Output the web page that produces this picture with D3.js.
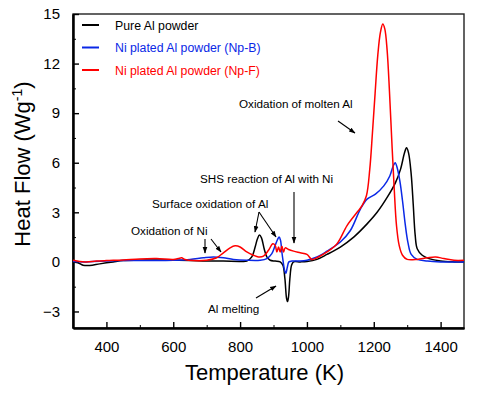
<!DOCTYPE html>
<html lang="en">
<head>
    <meta charset="UTF-8">
    <title>DSC Heat Flow</title>
    <script src="https://d3js.org/d3.v7.min.js"></script>
    <style>
        body {
            margin: 0;
            font-family: Arial, "Liberation Sans", sans-serif;
            background: #fff;
        }
        .axis path, .axis line {
            stroke: #000;
        }
        .axis path {
            stroke-width: 2px;
        }
        .axis text {
            font-size: 15px;
            font-family: Arial, "Liberation Sans", sans-serif;
            fill: #000;
        }
        .note {
            font-size: 11.7px;
        }
    </style>
</head>
<body>
    <svg width="477" height="395"></svg>
    <script>
        // series
        const seriesNames = ["Pure Al powder", "Ni plated Al powder (Np-B)", "Ni plated Al powder (Np-F)"];
        const seriesColors = ["#000000", "#0a28e6", "#ff0000"];

        const pureT = [300, 315, 330, 350, 380, 420, 450, 500, 550, 600, 650, 700, 750, 800, 820, 835, 845, 852, 858, 864, 872, 880, 890, 905, 920, 928, 934, 939, 942, 945, 949, 954, 960, 980, 1000, 1030, 1060, 1100, 1140, 1180, 1210, 1240, 1265, 1280, 1292, 1298, 1304, 1312, 1318, 1324, 1330, 1345, 1365, 1400, 1440, 1470];
        const pureF = [0.0, -0.05, -0.2, -0.22, -0.12, 0.0, 0.08, 0.1, 0.12, 0.1, 0.08, 0.05, 0.05, 0.03, 0.05, 0.3, 0.9, 1.4, 1.62, 1.45, 0.8, 0.3, 0.1, 0.05, 0.0, -0.2, -1.0, -2.2, -2.4, -2.1, -1.0, -0.2, 0.0, 0.0, 0.02, 0.15, 0.45, 0.9, 1.5, 2.3, 3.0, 3.9, 4.8, 5.6, 6.6, 6.9, 6.6, 5.3, 3.5, 1.6, 0.8, 0.4, 0.2, 0.05, 0.0, 0.0];

        const npbT = [300, 330, 360, 400, 450, 500, 550, 600, 650, 690, 720, 750, 780, 820, 860, 880, 895, 905, 912, 917, 921, 925, 929, 933, 937, 941, 946, 955, 980, 1000, 1030, 1060, 1100, 1130, 1160, 1180, 1205, 1230, 1248, 1258, 1264, 1270, 1278, 1286, 1294, 1302, 1312, 1330, 1360, 1400, 1470];
        const npbF = [0.02, 0.0, 0.02, 0.05, 0.08, 0.08, 0.08, 0.1, 0.15, 0.25, 0.3, 0.25, 0.15, 0.1, 0.1, 0.2, 0.5, 1.0, 1.35, 1.5, 1.3, 0.6, 0.0, -0.5, -0.7, -0.35, 0.0, 0.05, 0.05, 0.1, 0.3, 0.65, 1.2, 1.9, 3.2, 3.8, 4.1, 4.6, 5.2, 5.8, 6.0, 5.7, 4.9, 3.7, 2.3, 1.2, 0.45, 0.15, 0.05, 0.0, 0.0];

        const npfT = [300, 320, 340, 370, 400, 450, 500, 550, 600, 615, 625, 635, 660, 700, 730, 750, 770, 785, 800, 820, 840, 855, 870, 885, 898, 905, 910, 915, 920, 925, 930, 935, 945, 960, 980, 1000, 1015, 1030, 1060, 1090, 1120, 1150, 1165, 1178, 1188, 1196, 1204, 1212, 1220, 1227, 1233, 1240, 1247, 1254, 1261, 1268, 1276, 1286, 1300, 1330, 1360, 1385, 1410, 1440, 1470];
        const npfF = [0.1, 0.02, 0.0, 0.05, 0.08, 0.12, 0.18, 0.2, 0.15, 0.2, 0.25, 0.15, 0.08, 0.1, 0.25, 0.55, 0.85, 0.97, 0.9, 0.6, 0.4, 0.3, 0.35, 0.7, 1.1, 1.0, 0.6, 0.9, 0.6, 0.95, 0.6, 0.85, 0.75, 0.65, 0.55, 0.45, 0.15, 0.25, 0.6, 1.1, 2.2, 3.0, 3.4, 4.0, 5.6, 7.8, 10.2, 12.5, 13.9, 14.4, 14.1, 12.8, 10.3, 7.3, 4.5, 2.2, 1.0, 0.4, 0.15, 0.15, 0.25, 0.3, 0.2, 0.1, 0.1];

        const xTicks = [400, 600, 800, 1000, 1200, 1400];
        const xMinor = [300, 500, 700, 900, 1100, 1300];
        const yTicks = [-3, 0, 3, 6, 9, 12, 15];
        const yMinor = [-1.5, 1.5, 4.5, 7.5, 10.5, 13.5];

        const margin = { top: 14, right: 13, bottom: 67, left: 73 },
              width = 477 - margin.left - margin.right,
              height = 395 - margin.top - margin.bottom;

        const svg = d3.select("svg");
        const g = svg.append("g")
            .attr("transform", "translate(" + margin.left + "," + margin.top + ")");

        const x = d3.scaleLinear().domain([300, 1470]).range([0, width]);
        const y = d3.scaleLinear().domain([-4, 15]).range([height, 0]);

        // frame (top and right)
        g.append("rect")
            .attr("x", 0).attr("y", 0)
            .attr("width", width).attr("height", height)
            .attr("fill", "none")
            .attr("stroke", "#222")
            .attr("stroke-width", 1.4);

        // axes, ticks pointing inside
        g.append("g")
            .attr("class", "axis")
            .attr("transform", "translate(0," + height + ")")
            .call(d3.axisBottom(x).tickValues(xMinor).tickSizeInner(-3).tickSizeOuter(0).tickFormat(""));
        g.append("g")
            .attr("class", "axis")
            .attr("transform", "translate(0," + height + ")")
            .call(d3.axisBottom(x).tickValues(xTicks).tickSizeInner(-6).tickSizeOuter(0).tickPadding(13).tickFormat(d3.format("d")))
            .selectAll("line").attr("stroke-width", 1.4);

        g.append("g")
            .attr("class", "axis")
            .call(d3.axisLeft(y).tickValues(yMinor).tickSizeInner(-3).tickSizeOuter(0).tickFormat(""));
        g.append("g")
            .attr("class", "axis")
            .call(d3.axisLeft(y).tickValues(yTicks).tickSizeInner(-6).tickSizeOuter(0).tickPadding(13).tickFormat(d3.format("d")))
            .selectAll("line").attr("stroke-width", 1.4);

        // curves
        const line = d3.line()
            .x(function(d) { return x(d[0]); })
            .y(function(d) { return y(d[1]); })
            .curve(d3.curveCatmullRom.alpha(0.5));

        const allSeries = [
            d3.zip(pureT, pureF),
            d3.zip(npbT, npbF),
            d3.zip(npfT, npfF)
        ];

        const plot = g.append("g");
        plot.append("clipPath").attr("id", "clip")
            .append("rect").attr("width", width).attr("height", height);
        plot.selectAll(".curve")
            .data(allSeries)
            .enter()
            .append("path")
            .attr("class", "curve")
            .attr("clip-path", "url(#clip)")
            .attr("fill", "none")
            .attr("stroke", function(d, i) { return seriesColors[i]; })
            .attr("stroke-width", 1.5)
            .attr("stroke-linejoin", "round")
            .attr("d", line);

        // legend
        const legend = g.append("g").attr("transform", "translate(9,11)");
        seriesNames.forEach(function(name, i) {
            const row = legend.append("g").attr("transform", "translate(0," + (i * 22.5) + ")");
            row.append("line")
                .attr("x1", 0).attr("x2", 17)
                .attr("stroke", seriesColors[i]).attr("stroke-width", 2);
            row.append("text")
                .attr("x", 33).attr("y", 4.5)
                .attr("font-size", "12.3px")
                .attr("fill", i === 0 ? "#000" : seriesColors[i])
                .text(name);
        });

        // axis titles
        svg.append("text")
            .attr("x", margin.left + width / 2 - 4)
            .attr("y", 380)
            .attr("text-anchor", "middle")
            .attr("font-size", "22px")
            .text("Temperature (K)");

        const yt = svg.append("text")
            .attr("transform", "translate(30," + (margin.top + 150) + ") rotate(-90)")
            .attr("text-anchor", "middle")
            .attr("font-size", "22px");
        yt.append("tspan").text("Heat Flow (Wg");
        yt.append("tspan").attr("font-size", "14px").attr("dy", "-8").text("-1");
        yt.append("tspan").attr("dy", "8").text(")");

        // annotations (page pixels)
        svg.append("defs").append("marker")
            .attr("id", "arrow")
            .attr("viewBox", "0 0 10 10")
            .attr("refX", 9).attr("refY", 5)
            .attr("markerWidth", 6).attr("markerHeight", 6)
            .attr("orient", "auto")
            .append("path")
            .attr("d", "M0,1.5 L10,5 L0,8.5 Z")
            .attr("fill", "#000");

        const labels = [
            { text: "Oxidation of molten Al", x: 239, y: 108 },
            { text: "SHS reaction of Al with Ni", x: 200, y: 183 },
            { text: "Surface oxidation of Al", x: 152, y: 208 },
            { text: "Oxidation of Ni", x: 131, y: 235 },
            { text: "Al melting", x: 208, y: 313 }
        ];
        const arrows = [
            [338, 121, 355, 133],
            [294, 192, 294, 243],
            [259, 212, 255, 232],
            [259, 212, 276, 237],
            [205, 239, 205, 253],
            [211, 239, 221, 252],
            [256, 298, 276, 286]
        ];

        svg.selectAll(".note")
            .data(labels)
            .enter()
            .append("text")
            .attr("class", "note")
            .attr("x", function(d) { return d.x; })
            .attr("y", function(d) { return d.y; })
            .text(function(d) { return d.text; });

        svg.selectAll(".arrow")
            .data(arrows)
            .enter()
            .append("line")
            .attr("class", "arrow")
            .attr("x1", function(d) { return d[0]; })
            .attr("y1", function(d) { return d[1]; })
            .attr("x2", function(d) { return d[2]; })
            .attr("y2", function(d) { return d[3]; })
            .attr("stroke", "#000")
            .attr("stroke-width", 1.1)
            .attr("marker-end", "url(#arrow)");
    </script>
</body>
</html>
